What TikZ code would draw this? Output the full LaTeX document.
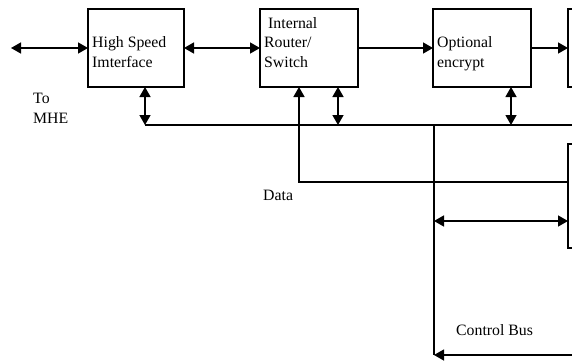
\documentclass[tikz,border=0pt]{standalone}
\usepackage{fontspec}
\setmainfont{Liberation Serif}
\usetikzlibrary{arrows.meta}
\begin{document}
\begin{tikzpicture}[x=1pt,y=-1pt,
  blk/.style={draw,line width=1.6pt,minimum width=#1,minimum height=78pt,anchor=north west,inner sep=0,outer sep=0},
  tall/.style={draw,line width=1.6pt,minimum width=60pt,minimum height=104pt,anchor=north west,inner sep=0,outer sep=0},
  txt/.style={anchor=base west,inner sep=0,font=\fontsize{15.8}{19}\selectfont},
  ln/.style={line width=1.4pt},
  dbl/.style={ln,{Triangle[length=10pt,width=11pt]}-{Triangle[length=10pt,width=11pt]}},
  sgl/.style={ln,-{Triangle[length=10pt,width=11pt]}}]
\useasboundingbox (0,0) rectangle (572,361);
\clip (0,0) rectangle (572,361);
% boxes
\node[blk=96pt] (hsi) at (88,9) {};
\node[blk=98pt] (irs) at (260,9) {};
\node[blk=98pt] (enc) at (433,9) {};
\node[blk=60pt] (out) at (568,9) {};
\node[tall] (aux) at (568,144) {};
% box texts
\node[txt] (t1a) at (92,48) {High Speed};
\node[txt] (t1b) at (92,67) {Imterface};
\node[txt] (t2a) at (268,29) {Internal};
\node[txt] (t2b) at (264,48) {Router/};
\node[txt] (t2c) at (264,67) {Switch};
\node[txt] (t3a) at (437,48) {Optional};
\node[txt] (t3b) at (437,67) {encrypt};
% labels
\node[txt] (mheA) at (33,103) {To};
\node[txt] (mheB) at (33,123) {MHE};
\node[txt] (dlab) at (263,200) {Data};
\node[txt] (clab) at (456,335) {Control Bus};
% coordinates
\coordinate (mhe) at (11,48);
\coordinate (b1) at (145,125);
\coordinate (b2) at (338,125);
\coordinate (b3) at (511,125);
\coordinate (bc) at (434,125);
\coordinate (bend) at (590,125);
\coordinate (d1) at (299,182);
\coordinate (m1) at (434,221);
\coordinate (cb) at (434,355);
\coordinate (cend) at (590,355);
% horizontal links
\draw[dbl] (mhe) -- (hsi.west);
\draw[dbl] (hsi.east) -- (irs.west);
\draw[sgl] (irs.east) -- (enc.west);
\draw[sgl] (enc.east) -- (out.west);
% bus
\draw[ln] (b1) -- (bend);
\draw[dbl] (b1 |- hsi.south) -- (b1);
\draw[dbl] (b2 |- irs.south) -- (b2);
\draw[dbl] (b3 |- enc.south) -- (b3);
% data
\draw[sgl] (aux.north west |- d1) -- (d1) -- (d1 |- irs.south);
% control bus
\draw[ln] (bc) -- (cb);
\draw[dbl] (m1) -- (aux.north west |- m1);
\draw[sgl] (cend) -- (cb);
\end{tikzpicture}
\end{document}
